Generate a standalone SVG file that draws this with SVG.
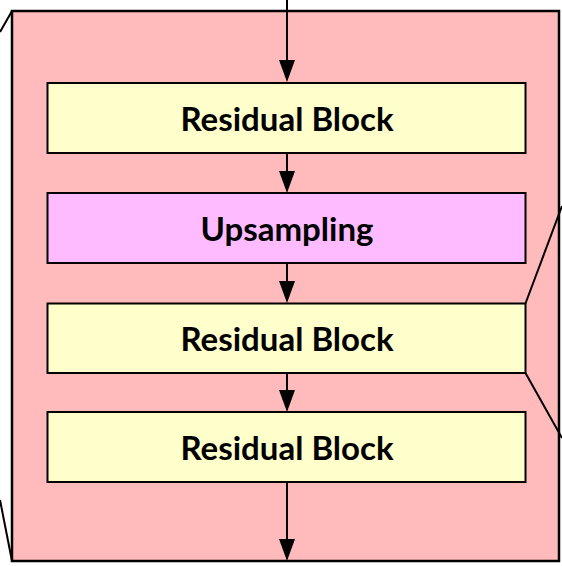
<svg xmlns="http://www.w3.org/2000/svg" width="562" height="566" viewBox="0 0 562 566">
<style>
.frame{fill:#FFBBBB;stroke:#000;stroke-width:2.5}
.edge{fill:none;stroke:#000;stroke-width:2}
.box{stroke:#000;stroke-width:2}
.res{fill:#FFFFCC}
.up{fill:#FFBBFF}
.lbl{font-family:"Lato","Liberation Sans",sans-serif;font-size:33px;font-weight:700;fill:#000;text-anchor:middle;dominant-baseline:central}
.conn{stroke:#000;stroke-width:2;fill:none}
.head{fill:#000}
</style>
<g id="frame">
<rect class="frame" x="12" y="11" width="547" height="550"/>
</g>
<g id="zoom-lines">
<line class="edge" x1="12" y1="11" x2="0" y2="32"/>
<line class="edge" x1="0" y1="500" x2="12" y2="561"/>
<line class="edge" x1="525.5" y1="303.5" x2="562" y2="206"/>
<line class="edge" x1="525.5" y1="373" x2="562" y2="438"/>
</g>
<g id="connectors">
<line class="conn" x1="287" y1="0" x2="287" y2="64"/>
<polygon class="head" points="279,60 295,60 287,82"/>
<line class="conn" x1="287" y1="153" x2="287" y2="175"/>
<polygon class="head" points="279,171 295,171 287,193"/>
<line class="conn" x1="287" y1="263" x2="287" y2="285"/>
<polygon class="head" points="279,281 295,281 287,303"/>
<line class="conn" x1="287" y1="373" x2="287" y2="394"/>
<polygon class="head" points="279,390 295,390 287,412"/>
<line class="conn" x1="287" y1="482" x2="287" y2="543"/>
<polygon class="head" points="279,539 295,539 287,561"/>
</g>
<g id="res1">
<rect class="box res" x="47.5" y="83" width="478" height="70"/>
<text class="lbl" x="287" y="118">Residual Block</text>
</g>
<g id="upsampling">
<rect class="box up" x="47.5" y="193" width="478" height="70"/>
<text class="lbl" x="287" y="228">Upsampling</text>
</g>
<g id="res2">
<rect class="box res" x="47.5" y="303.5" width="478" height="69.5"/>
<text class="lbl" x="287" y="338">Residual Block</text>
</g>
<g id="res3">
<rect class="box res" x="47.5" y="412" width="478" height="70"/>
<text class="lbl" x="287" y="447">Residual Block</text>
</g>
</svg>
